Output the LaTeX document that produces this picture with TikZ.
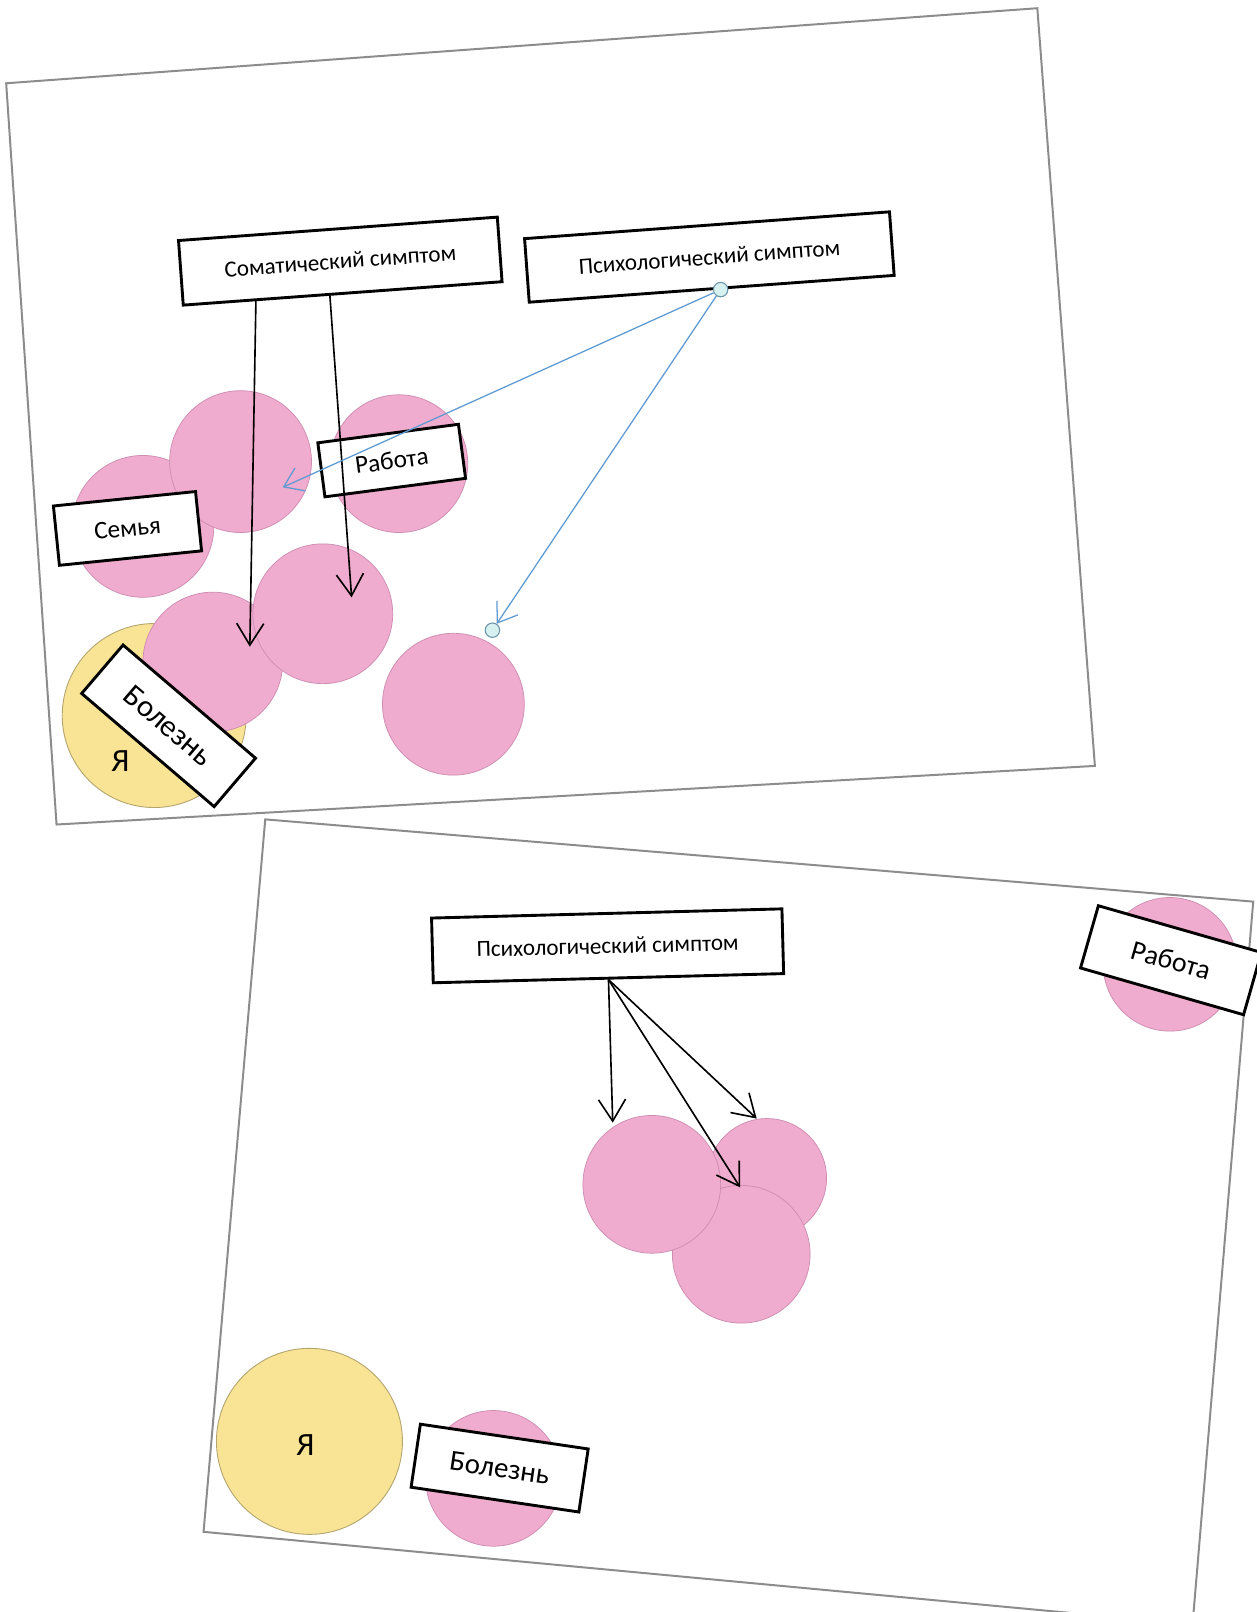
\documentclass[tikz,border=0pt]{standalone}
\usepackage{fontspec}
\setmainfont{Carlito}
\usetikzlibrary{arrows.meta,calc}
\definecolor{pinkc}{RGB}{240,172,206}
\definecolor{pinkb}{RGB}{205,140,178}
\definecolor{yellc}{RGB}{249,228,150}
\definecolor{yellb}{RGB}{180,165,110}
\definecolor{bluel}{RGB}{95,155,210}
\definecolor{dotf}{RGB}{215,240,240}
\definecolor{dotb}{RGB}{110,150,170}
\definecolor{sheetb}{RGB}{140,140,140}
\begin{document}
\begin{tikzpicture}[x=0.02cm,y=-0.02cm,
  sheet/.style={fill=white,draw=sheetb,line width=1.1pt},
  pinkdisc/.style={circle,fill=pinkc,draw=pinkb,line width=0.4pt,inner sep=0pt,minimum size=#1*0.04cm},
  yellowdisc/.style={circle,fill=yellc,draw=yellb,line width=0.5pt,inner sep=0pt,minimum size=#1*0.04cm},
  labelbox/.style={draw=black,line width=1.6pt,fill=white,inner sep=0pt,font=\fontsize{14}{16}\selectfont},
  titlebox/.style={draw=black,line width=1.6pt,fill=white,inner sep=0pt,font=\fontsize{12.8}{15}\selectfont},
  blackarrow/.style={draw=black,line width=0.9pt,-{Straight Barb[length=12pt,width=15pt,line width=0.9pt]}},
  bluearrow/.style={draw=bluel,line width=0.7pt,-{Straight Barb[length=10pt,width=14pt,line width=0.7pt]}},
  dot/.style={circle,fill=dotf,draw=dotb,line width=0.6pt,inner sep=0pt,minimum size=0.28cm},
  yatext/.style={font=\fontsize{18}{20}\selectfont,inner sep=0pt}
]
\useasboundingbox (0,0) rectangle (1222,1568);
\fill[white] (0,0) rectangle (1222,1568);

%% ---------------- sheet 1 ----------------
\draw[sheet] (6,81) -- (1009,8) -- (1065,745) -- (55,802) -- cycle;

\node[yellowdisc=89.5] (ya1) at (150,696) {};
\node[pinkdisc=69] (c1) at (139,512) {};
\node[pinkdisc=69] (c2) at (234,449) {};
\node[pinkdisc=67] (c3) at (388,451) {};
\node[pinkdisc=68] (c5) at (207,644) {};
\node[pinkdisc=68] (c4) at (314,597) {};
\node[pinkdisc=69] (c6) at (441,685) {};

\node[yatext] (ya1t) at (117,740) {Я};

\node[titlebox,minimum width=6.22cm,minimum height=1.26cm,rotate=4.2] (som) at (331,254) {Соматический симптом\hspace{0.44cm}};
\node[titlebox,minimum width=7.12cm,minimum height=1.24cm,rotate=4.2] (psy1) at (690,250) {Психологический симптом\hspace{0.76cm}};

\node[labelbox,minimum width=2.78cm,minimum height=1.16cm,rotate=5.8] (fam1) at (124,514) {Семья};
\node[labelbox,minimum width=2.76cm,minimum height=1.06cm,rotate=7.5] (work1) at (381,448) {Работа};
\node[labelbox,minimum width=3.39cm,minimum height=1.24cm,rotate=-40.5,font=\fontsize{17}{19}\selectfont] (ill1) at (164,706) {Болезнь};

\coordinate (s1a) at ($(som.south west)!0.23!(som.south east)$);
\coordinate (s1b) at ($(som.south west)!0.46!(som.south east)$);
\coordinate (e1a) at (243,629);
\coordinate (e1b) at (342,581);
\draw[blackarrow] (s1a) -- (e1a);
\draw[blackarrow] (s1b) -- (e1b);

\node[dot] (p1) at ($(psy1.south west)!0.524!(psy1.south east)$) {};
\coordinate (e1c) at (275,474);
\node[dot] (q1) at (479,613) {};
\draw[bluearrow] (p1) -- (e1c);
\draw[bluearrow] (p1) -- (q1);

%% ---------------- sheet 2 ----------------
\draw[sheet] (258,797) -- (1219,877) -- (1160,1580) -- (198,1490) -- cycle;

\node[pinkdisc=65] (w2) at (1138,938) {};
\node[labelbox,minimum width=3.3cm,minimum height=1.26cm,rotate=-16,font=\fontsize{15.5}{17}\selectfont] (work2) at (1139,934) {Работа};

\node[pinkdisc=58] (d2) at (746,1146) {};
\node[pinkdisc=67] (d3) at (721,1220) {};
\node[pinkdisc=67] (d1) at (634,1152) {};

\node[titlebox,minimum width=6.82cm,minimum height=1.26cm,rotate=1.5] (psy2) at (591,920) {Психологический симптом\hspace{0.8cm}};
\coordinate (s2) at ($(psy2.south west)!0.50!(psy2.south east)$);
\coordinate (e2a) at (596,1092);
\coordinate (e2b) at (736,1088);
\coordinate (e2c) at (720,1155);
\draw[blackarrow] (s2) -- (e2a);
\draw[blackarrow] (s2) -- (e2b);
\draw[blackarrow] (s2) -- (e2c);

\node[yellowdisc=90.5] (ya2) at (301,1402) {};
\node[yatext] (ya2t) at (297,1406) {Я};
\node[pinkdisc=66] (e2) at (480,1438) {};
\node[labelbox,minimum width=3.3cm,minimum height=1.24cm,rotate=-8.4,font=\fontsize{16}{18}\selectfont] (ill2) at (486,1428) {Болезнь};
\end{tikzpicture}
\end{document}
